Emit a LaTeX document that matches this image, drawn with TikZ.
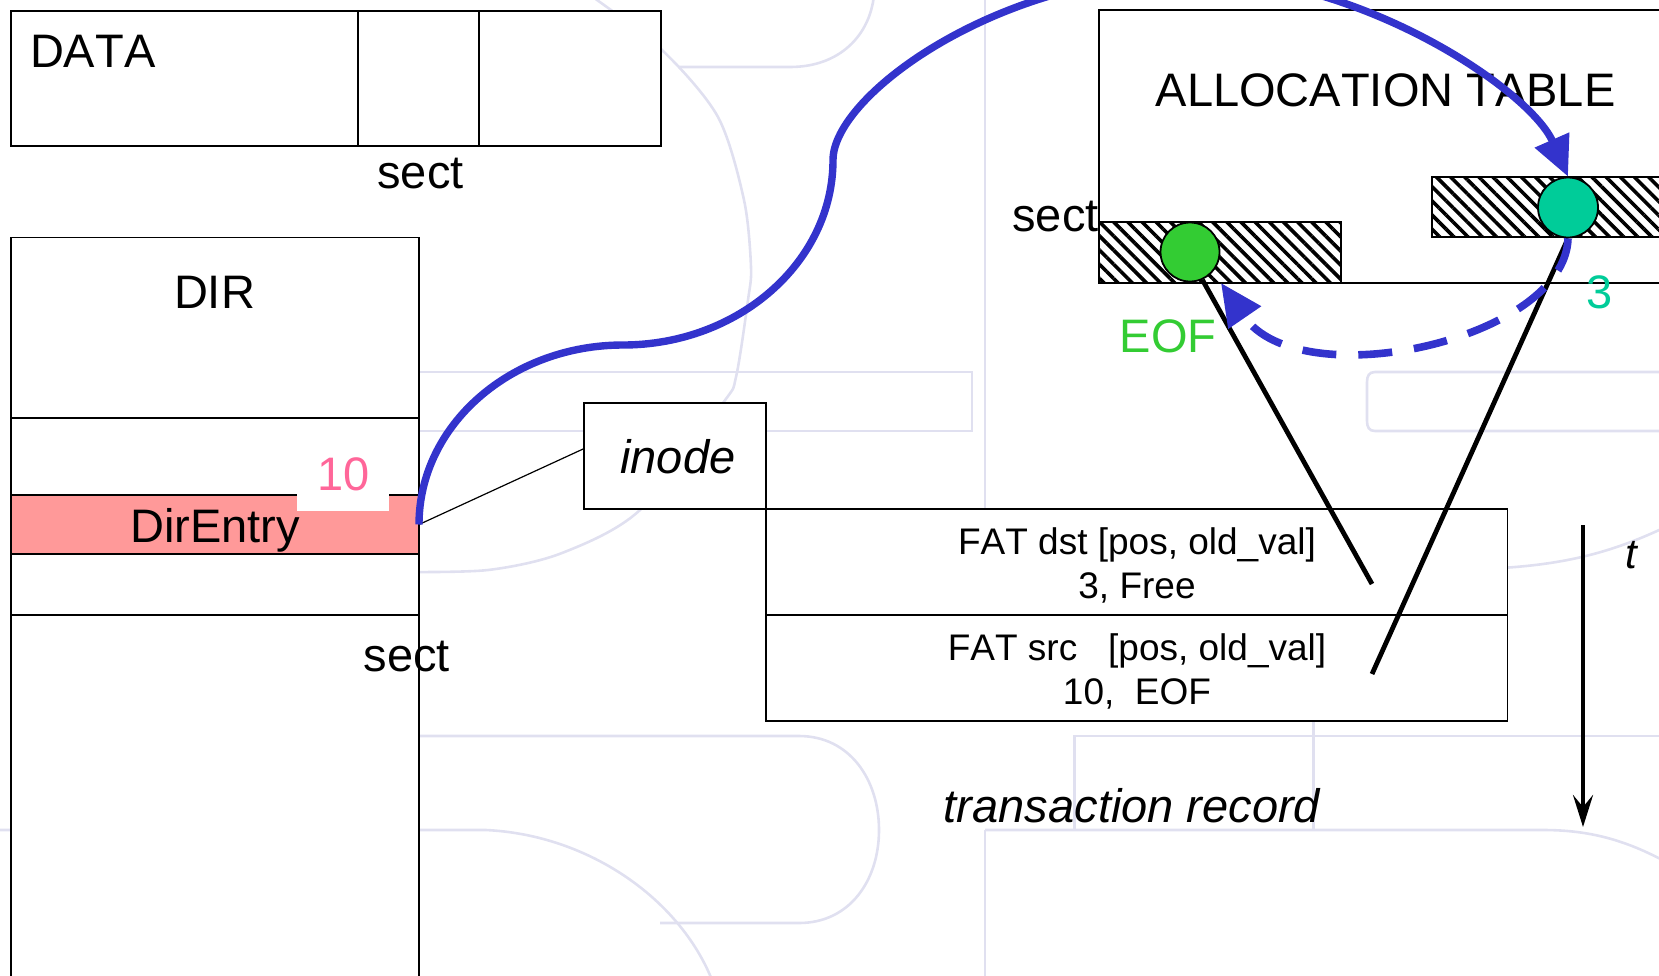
\documentclass[tikz,border=0pt]{standalone}
\usepackage{fontspec}
\setmainfont{Liberation Sans}[Kerning=Off]
\usetikzlibrary{arrows.meta,patterns.meta,calc}
\definecolor{bgc}{HTML}{E0E0F0}
\definecolor{pinkfill}{HTML}{FF9999}
\definecolor{pinktext}{HTML}{FF6699}
\definecolor{eofgreen}{HTML}{33CC33}
\definecolor{tealc}{HTML}{00CC99}
\definecolor{arrowblue}{HTML}{3333CC}
\newcommand\rectnode[6]{%
  \pgfmathsetmacro\rnx{(#2+#4)/2}\pgfmathsetmacro\rny{(#3+#5)/2}%
  \pgfmathsetmacro\rnw{(#4-#2)*0.5}\pgfmathsetmacro\rnh{(#5-#3)*0.5}%
  \node[#6, minimum width=\rnw pt, minimum height=\rnh pt] (#1) at (\rnx,\rny) {};}
\begin{document}
\begin{tikzpicture}[x=0.5pt,y=-0.5pt,
  box/.style={draw, line width=0.9pt, fill=white, inner sep=0pt, outer sep=0pt},
  pinkrow/.style={box, fill=pinkfill},
  whitelabel/.style={fill=white, inner sep=0pt, outer sep=0pt},
  hatchbar/.style={box, postaction={pattern={Lines[angle=-45,distance=5pt,line width=1.8pt]}}},
  bigtext/.style={font=\fontsize{23.5}{28}\selectfont, inner sep=0pt, anchor=base},
  rectext/.style={font=\fontsize{18.5}{22}\selectfont, inner sep=0pt, anchor=base},
  dot/.style={circle, draw, line width=0.9pt, inner sep=0pt},
  bgline/.style={draw=bgc, line width=1.3pt},
  thinline/.style={line width=0.6pt},
  blackline/.style={line width=2.4pt},
  bluesolid/.style={draw=arrowblue, line width=3.7pt, -{Triangle[length=20pt,width=18pt]}},
  bluedashed/.style={draw=arrowblue, line width=3.8pt, dash pattern=on 17pt off 11pt, -{Triangle[length=21pt,width=19pt]}},
  timearrow/.style={line width=2.2pt, -{Stealth[length=16pt,width=10pt,inset=6pt]}}
]
\useasboundingbox (0,0) rectangle (1659,975);
\clip (0,0) rectangle (1659,975);

% faint background template
\draw[bgline] (985,-5) -- (985,509);
\draw[bgline] (985,830) -- (985,980);
\draw[bgline] (400,372) rectangle (972,431);
\draw[bgline] (1700,372) -- (1375,372) .. controls (1369,372) and (1367,376) .. (1367,382) -- (1367,421) .. controls (1367,427) and (1369,431) .. (1375,431) -- (1700,431);
\draw[bgline] plot[smooth] coordinates {(590,-5) (662,50) (718,117) (744,200) (751,267) (748,300) (736,377) (723,403) (640,510) (562,553) (488,570) (400,572)};
\draw[bgline] (679,67) -- (790,67) .. controls (840,67) and (870,35) .. (874,-5);
\draw[bgline] (400,736) -- (799,736) .. controls (850,736) and (879,780) .. (879,830) .. controls (879,880) and (850,923) .. (799,923) -- (660,923);
\draw[bgline] (0,830) -- (486,830) .. controls (590,835) and (680,900) .. (712,980);
\draw[bgline] (1074.6,830) -- (1074.6,736) -- (1700,736);
\draw[bgline] (1313.5,700) -- (1313.5,830);
\draw[bgline] (985,830) -- (1543,830) .. controls (1590,830) and (1630,840) .. (1680,870);
\draw[bgline] (1480,569) .. controls (1570,566) and (1620,550) .. (1680,520);

% DATA
\rectnode{data}{10.6}{10.7}{661}{146}{box}
\draw[line width=0.9pt] (358,10.7) -- (358,146);
\draw[line width=0.9pt] (479,10.7) -- (479,146);
\node[bigtext, anchor=base west] (datalbl) at (29.6,67) {DATA};
\node[bigtext] (sectdata) at (420.5,188) {sect};

% DIR
\rectnode{dir}{10.6}{237.5}{419}{1000}{box}
\draw[line width=0.9pt] (10.6,418) -- (419,418);
\draw[line width=0.9pt] (10.6,615) -- (419,615);
\rectnode{dirent}{10.6}{495}{419}{554}{pinkrow}
\rectnode{lbl10}{297}{445}{389}{511}{whitelabel}
\node[bigtext, text=pinktext] (ten) at (344,490) {10};
\node[bigtext] (dirlbl) at (214.5,308) {DIR};
\node[bigtext] (direntlbl) at (215,542) {DirEntry};
\node[bigtext] (sectdir) at (406.8,671.5) {sect};

% inode and transaction record
\rectnode{inode}{584}{403}{766}{509}{box}
\node[bigtext, font=\fontsize{23.5}{28}\selectfont\itshape] (inodelbl) at (677.8,473) {inode};
\rectnode{recdst}{766}{509}{1507.5}{615}{box}
\rectnode{recsrc}{766}{615}{1507.5}{721}{box}
\node[rectext] (dst1) at (1137,554) {FAT dst [pos, old\_val]};
\node[rectext] (dst2) at (1137,598) {3, Free};
\node[rectext] (src1) at (1137,660) {FAT src\ \ \ [pos, old\_val]};
\node[rectext] (src2) at (1137,704) {10,\ \ EOF};
\node[bigtext, font=\fontsize{23.5}{28}\selectfont\itshape] (trlbl) at (1132,822) {transaction record};

% allocation table
\rectnode{fat}{1099}{10}{1720}{282.7}{box}
\node[bigtext] (fatlbl) at (1385.6,106.7) {ALLOCATION TABLE};
\rectnode{bar1}{1099}{222}{1341}{283}{hatchbar}
\rectnode{bar2}{1432}{177}{1720}{237}{hatchbar}
\node[dot, fill=eofgreen, minimum size=29.5pt] (green) at (1190,252) {};
\node[dot, fill=tealc, minimum size=30pt] (teal) at (1568,207.5) {};
\node[bigtext, anchor=base east] (sectfat) at (1099,231.7) {sect};
\node[bigtext, text=eofgreen] (eoflbl) at (1168,352.7) {EOF};
\node[bigtext, text=tealc] (threelbl) at (1600,308) {3};

% time axis
\coordinate (tstart) at (1583,525);
\coordinate (tend) at (1583,827);
\draw[timearrow] (tstart) -- (tend);
\node[bigtext, font=\fontsize{21}{25}\selectfont\itshape] (tlbl) at (1631,568) {t};

% connectors
\draw[thinline] (dirent.east) -- ($(inode.north west)!0.43!(inode.south west)$);
\coordinate (dstend) at (1372,584);
\coordinate (srcend) at (1372,674);
\draw[blackline] (green.-66) -- (dstend);
\draw[blackline] (teal.south) -- (srcend);
\coordinate (eoftip) at (1221,283);
\draw[bluedashed] (teal.south) .. controls (1565,340) and (1300,398) .. (eoftip);
\draw[bluesolid] (dirent.east) .. controls (419,425) and (511,345) .. (623,345)
  .. controls (738.5,345) and (833,262) .. (833,160)
  .. controls (833,95) and (1000,-25) .. (1189,-25)
  .. controls (1360,-25) and (1530,90) .. (teal.north);
\end{tikzpicture}
\end{document}
